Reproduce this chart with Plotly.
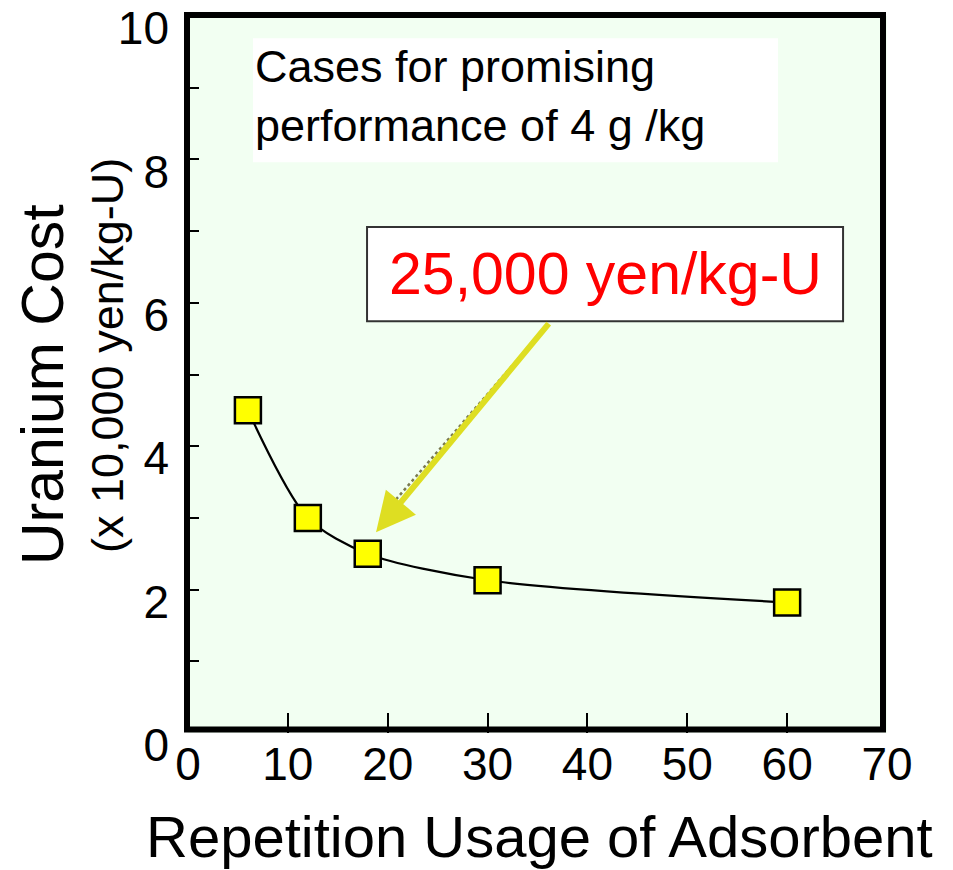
import plotly.graph_objects as go

# ---- data ----
repetitions = [6, 12, 18, 30, 60]
uranium_cost = [4.5, 3.0, 2.5, 2.13, 1.82]   # x 10,000 yen/kg-U
x_ticks = [0, 10, 20, 30, 40, 50, 60, 70]
y_ticks = [0, 2, 4, 6, 8, 10]
y_minor_ticks = [1, 3, 5, 7, 9]

FONT = "Liberation Sans, Arial, sans-serif"
OFF = 8  # default page body margin
W, H = 953 - OFF, 870 - OFF
# plot area in screenshot pixels: x 188..887, y 16..733
L, T = 188 - OFF, 16 - OFF
R, B = W - (887 - OFF), H - (733 - OFF)
PW, PH = W - L - R, H - T - B


def px_x(p):  # screenshot pixel -> paper
    return (p - OFF - L) / PW


def px_y(p):
    return (H - B - (p - OFF)) / PH


fig = go.Figure()
fig.add_trace(go.Scatter(
    x=repetitions, y=uranium_cost, mode="lines+markers",
    line=dict(color="black", width=2.2, shape="spline", smoothing=0.8),
    marker=dict(symbol="square", size=26, color="#FFFF00",
                line=dict(color="black", width=2.5)),
    showlegend=False, hoverinfo="skip",
))

shapes = []
# white label box (top)
shapes.append(dict(type="rect", xref="x", yref="y", x0=6.51, x1=59.08, y0=7.96, y1=9.69,
                   fillcolor="white", line=dict(width=0), layer="below"))
# red label box
shapes.append(dict(type="rect", xref="x", yref="y", x0=17.93, x1=65.6, y0=5.744, y1=7.056,
                   fillcolor="white", line=dict(color="#333333", width=2)))

annotations = [
    dict(x=18.83, y=2.80, xref="x", yref="y", ax=36.25, ay=5.73, axref="x", ayref="y",
         text="", showarrow=True, arrowhead=2, arrowsize=1.3, arrowwidth=6,
         arrowcolor="#DEDE22"),
    dict(x=41.76, y=6.40, xref="x", yref="y", text="25,000 yen/kg-U", showarrow=False,
         xanchor="center", yanchor="middle", font=dict(family=FONT, size=59, color="#FF0000")),
    dict(x=6.55, y=9.68, xref="x", yref="y",
         text="Cases for promising<br>performance of 4 g /kg", showarrow=False,
         xanchor="left", yanchor="top", align="left",
         font=dict(family=FONT, size=45, color="black")),
    dict(x=px_x(539), y=px_y(836), xref="paper", yref="paper",
         text="Repetition Usage of Adsorbent", showarrow=False,
         xanchor="center", yanchor="middle", font=dict(family=FONT, size=58, color="black")),
    dict(x=px_x(43), y=px_y(385), xref="paper", yref="paper", text="Uranium Cost",
         textangle=-90, showarrow=False, xanchor="center", yanchor="middle",
         font=dict(family=FONT, size=59, color="black")),
    dict(x=px_x(107), y=px_y(356), xref="paper", yref="paper", text="(x 10,000 yen/kg-U)",
         textangle=-90, showarrow=False, xanchor="center", yanchor="middle",
         font=dict(family=FONT, size=45, color="black")),
]

# textured shaft overlay (dotted grey on the yellow arrow)
shapes.append(dict(type="line", xref="x", yref="y", x0=36.0, y0=5.69, x1=20.6, y1=3.22,
                   line=dict(color="#7a7a50", width=2.5, dash="dot")))
# frame
shapes.append(dict(type="rect", xref="paper", yref="paper",
                   x0=px_x(187), x1=px_x(883), y0=px_y(729.5), y1=px_y(15),
                   line=dict(color="black", width=6), fillcolor="rgba(0,0,0,0)"))

fig.update_layout(
    width=W, height=H,
    margin=dict(l=L, r=R, t=T, b=B, autoexpand=False),
    paper_bgcolor="white", plot_bgcolor="#F2FFF2",
    shapes=shapes, annotations=annotations,
    xaxis=dict(range=[0, 70], tickvals=x_ticks, ticks="inside", ticklen=20, tickwidth=2,
               tickcolor="black", showgrid=False, zeroline=False, showline=False,
               tickfont=dict(family=FONT, size=46, color="black"), ticklabelstandoff=0,
               ticklabeloverflow="allow", automargin=False),
    yaxis=dict(range=[0, 10], tickvals=y_ticks, ticks="inside", ticklen=11, tickwidth=2,
               tickcolor="black", showgrid=False, zeroline=False, showline=False,
               minor=dict(tickvals=y_minor_ticks, ticks="inside", ticklen=11, tickwidth=2,
                          tickcolor="black", showgrid=False),
               tickfont=dict(family=FONT, size=46, color="black"),
               ticklabelshift=12, ticklabelstandoff=18, ticklabeloverflow="allow",
               automargin=False),
)

fig.write_html("out.html")
